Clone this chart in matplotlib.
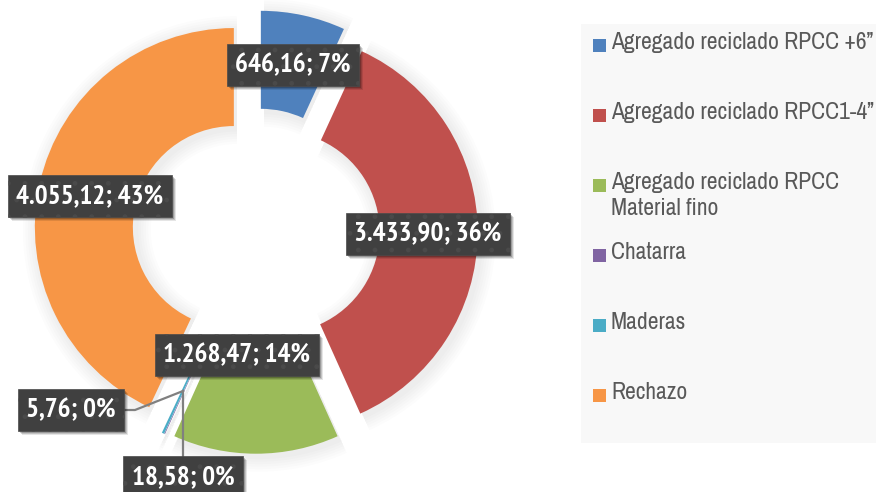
import matplotlib
matplotlib.use('Agg')
import matplotlib.pyplot as plt
from matplotlib import font_manager as fm
from matplotlib.patches import Rectangle

# datos del gráfico
categorias = [
    'Agregado reciclado RPCC +6”',
    'Agregado reciclado RPCC1-4”',
    'Agregado reciclado RPCC\nMaterial fino',
    'Chatarra',
    'Maderas',
    'Rechazo',
]
toneladas = [646.16, 3433.90, 1268.47, 5.76, 18.58, 4055.12]
etiquetas = ['646,16; 7%', '3.433,90; 36%', '1.268,47; 14%',
             '5,76; 0%', '18,58; 0%', '4.055,12; 43%']
colores = ['#4F81BD', '#C0504D', '#9BBB59', '#8064A2', '#4BACC6', '#F79646']


def buscar_fuente(bold):
    """Buscar una fuente estrecha (tipo Arial Narrow) instalada."""
    for palabra in ('Narrow', 'Condensed'):
        for f in fm.fontManager.ttflist:
            if palabra not in f.name or f.style != 'normal':
                continue
            w = f.weight
            es_bold = (w in ('bold', 'demibold')) or (isinstance(w, int) and w >= 600)
            if es_bold == bold:
                return f.fname, 1.0
    return None, 0.84


def props(bold, size):
    fname, escala = buscar_fuente(bold)
    if fname:
        return fm.FontProperties(fname=fname, size=size)
    return fm.FontProperties(family='Liberation Sans',
                             weight='bold' if bold else 'normal',
                             size=size * escala)


fig = plt.figure(figsize=(8.76, 4.92), dpi=100)
ax = fig.add_axes([0, 0, 1, 1])

cx, cy = 256, 232
radio = 199
ancho = 98
separacion = 22.7

# sombra suave alrededor de los sectores
for k in range(6, 0, -1):
    ax.pie(toneladas, radius=radio + k * 2.5, center=(cx + 3, cy + 3),
           explode=[separacion] * len(toneladas), startangle=270, counterclock=True,
           colors=['#000000'] * len(toneladas),
           wedgeprops=dict(width=ancho + k * 5, alpha=0.012, linewidth=0))

ax.pie(toneladas, radius=radio, center=(cx, cy),
       explode=[separacion] * len(toneladas), startangle=270, counterclock=True,
       colors=colores, wedgeprops=dict(width=ancho, linewidth=0))

ax.set_xlim(0, 876)
ax.set_ylim(492, 0)
ax.set_aspect('equal')
ax.axis('off')

# líneas guía de los sectores pequeños
ax.plot([124, 135, 183], [410, 410, 391], color='#808080', lw=1.6, zorder=3)
ax.plot([183, 183], [456, 391], color='#808080', lw=1.6, zorder=3)

# etiquetas de datos
fp_lab = props(True, 19.5)
pos_etiquetas = [(293, 65), (428, 234), (237, 355), (71, 410), (183, 477), (90, 196)]
textos = []
for texto, (x, y) in zip(etiquetas, pos_etiquetas):
    t = ax.text(x, y, texto, fontproperties=fp_lab, color='white',
                ha='center', va='center', zorder=5,
                bbox=dict(boxstyle='square,pad=0.32', facecolor='#404040',
                          edgecolor='#4a4a4a', linewidth=0.5, hatch='.'))
    textos.append(t)

# sombra de las cajas de etiquetas
fig.canvas.draw()
inv = ax.transData.inverted()
for t in textos:
    ext = t.get_bbox_patch().get_window_extent()
    (x0, y0), (x1, y1) = inv.transform([[ext.x0, ext.y0], [ext.x1, ext.y1]])
    for d, a in ((4, 0.10), (3, 0.15), (2, 0.2)):
        ax.add_patch(Rectangle((min(x0, x1) + d, min(y0, y1) + d),
                               abs(x1 - x0), abs(y1 - y0), facecolor='#000000',
                               edgecolor='none', alpha=a, zorder=4))

# leyenda
ax.add_patch(Rectangle((581, 24), 320, 419, facecolor='#F8F8F8',
                       edgecolor='none', zorder=0))
fp_ley = props(False, 17)
filas = [45, 115, 185, 255, 325, 395]
for nombre, color, y in zip(categorias, colores, filas):
    ax.add_patch(Rectangle((593, y - 6.5), 13, 13, facecolor=color,
                           edgecolor='none', zorder=2))
    ax.text(611, y - 13, nombre, fontproperties=fp_ley, color='#595959',
            ha='left', va='top', linespacing=1.3, zorder=2)

fig.savefig('out.png', dpi=100)
